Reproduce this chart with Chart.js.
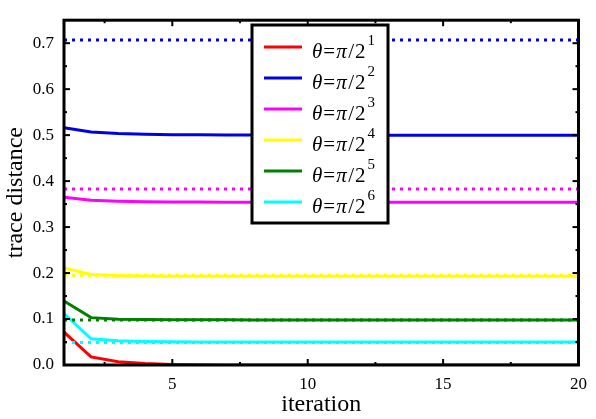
<!DOCTYPE html>
<html>
<head>
<meta charset="utf-8">
<script src="https://cdn.jsdelivr.net/npm/chart.js@4/dist/chart.umd.min.js"></script>
<style>
html,body{margin:0;padding:0;background:#fff;}
#wrap{width:596px;height:419px;}
</style>
</head>
<body>
<div id="wrap"><canvas id="c" width="596" height="419"></canvas></div>
<script>
// ---- data ----
const iterations = [1,2,3,4,5,6,7,8,9,10,11,12,13,14,15,16,17,18,19,20];
const seriesLabels = ['1','2','3','4','5','6']; // exponent k in θ=π/2^k
const seriesColors = ['#ff0000','#0000e6','#ff00ff','#ffff00','#008000','#00ffff'];
const red     = [0.0713,0.0175,0.0070,0.0030,0.0012,0.0005,0.0002,0.0001,0,0,0,0,0,0,0,0,0,0,0,0];
const blue    = [0.516,0.507,0.5035,0.5018,0.5010,0.5006,0.5004,0.5002,0.5001,0.5,0.5,0.5,0.5,0.5,0.5,0.5,0.5,0.5,0.5,0.5];
const magenta = [0.365,0.3585,0.3562,0.3552,0.3547,0.3544,0.3542,0.3541,0.354,0.354,0.354,0.354,0.354,0.354,0.354,0.354,0.354,0.354,0.354,0.354];
const yellow  = [0.211,0.197,0.1945,0.1937,0.1933,0.1931,0.193,0.193,0.193,0.193,0.193,0.193,0.193,0.193,0.193,0.193,0.193,0.193,0.193,0.193];
const green   = [0.139,0.103,0.0995,0.0988,0.0985,0.0983,0.0982,0.0981,0.098,0.098,0.098,0.098,0.098,0.098,0.098,0.098,0.098,0.098,0.098,0.098];
const cyan    = [0.112,0.057,0.0525,0.0512,0.0506,0.0503,0.0502,0.0501,0.050,0.050,0.050,0.050,0.050,0.050,0.050,0.050,0.050,0.050,0.050,0.050];
// dotted reference levels (blue, magenta, yellow, green, cyan)
const boundValues = [0.7071,0.3827,0.1951,0.0980,0.0491];
const boundColors = ['#0000e6','#ff00ff','#ffff00','#008000','#00ffff'];
const xMajorTicks = [5,10,15,20];
const xMinorTicks = [2.5,7.5,12.5,17.5];
const yMajorTicks = [0,0.1,0.2,0.3,0.4,0.5,0.6,0.7];
const yMinorTicks = [0.05,0.15,0.25,0.35,0.45,0.55,0.65];

const solidSeries = [red,blue,magenta,yellow,green,cyan];
const datasets = [];
solidSeries.forEach((s,i)=>{
  datasets.push({
    label:'θ=π/2^'+seriesLabels[i],
    data: iterations.map((x,j)=>({x:x,y:s[j]})),
    borderColor: seriesColors[i], backgroundColor: seriesColors[i],
    borderWidth: 3, pointRadius: 0, tension: 0, fill:false, order: 2
  });
});
boundValues.forEach((v,i)=>{
  datasets.push({
    label:'bound'+i,
    data:[{x:iterations[0],y:v},{x:iterations[iterations.length-1],y:v}],
    borderColor: boundColors[i], borderWidth: 3, borderDash:[3,5], borderCapStyle:'butt',
    pointRadius:0, fill:false, order: 1
  });
});

const SERIF = '"Liberation Serif", "DejaVu Serif", serif';

const framePlugin = {
  id:'frame',
  afterDatasetsDraw(chart){
    const {ctx, chartArea:a, scales:{x,y}} = chart;
    ctx.save();
    ctx.strokeStyle='#000';
    ctx.lineWidth=2;
    const tick=(x1,y1,x2,y2)=>{ctx.beginPath();ctx.moveTo(x1,y1);ctx.lineTo(x2,y2);ctx.stroke();};
    xMajorTicks.forEach(v=>{const px=x.getPixelForValue(v);tick(px,a.bottom,px,a.bottom-6);tick(px,a.top,px,a.top+6);});
    xMinorTicks.forEach(v=>{const px=x.getPixelForValue(v);tick(px,a.bottom,px,a.bottom-3);tick(px,a.top,px,a.top+3);});
    yMajorTicks.forEach(v=>{const py=y.getPixelForValue(v);tick(a.left,py,a.left+6,py);tick(a.right,py,a.right-6,py);});
    yMinorTicks.forEach(v=>{const py=y.getPixelForValue(v);tick(a.left,py,a.left+3,py);tick(a.right,py,a.right-3,py);});
    ctx.lineWidth=3;
    ctx.strokeRect(a.left,a.top,a.right-a.left,a.bottom-a.top);
    // legend
    const bx=252, by=25, bw=136, bh=198;
    ctx.fillStyle='#fff';
    ctx.fillRect(bx,by,bw,bh);
    ctx.lineWidth=3;
    ctx.strokeRect(bx,by,bw,bh);
    seriesLabels.forEach((k,i)=>{
      const yy = by + 22 + i*31;
      ctx.strokeStyle=seriesColors[i];
      ctx.lineWidth=3;
      tick(264,yy,302,yy);
      ctx.fillStyle='#000';
      ctx.textBaseline='alphabetic';
      let tx=312; const base=yy+11;
      ctx.font='italic 21px '+SERIF; ctx.fillText('θ',tx,base); tx+=ctx.measureText('θ').width+1;
      ctx.font='21px '+SERIF; ctx.fillText('=',tx,base); tx+=ctx.measureText('=').width+1;
      ctx.font='italic 21px '+SERIF; ctx.fillText('π',tx,base); tx+=ctx.measureText('π').width+1.5;
      ctx.font='21px '+SERIF; ctx.fillText('/',tx,base); tx+=ctx.measureText('/').width+1;
      ctx.fillText('2',tx,base); tx+=ctx.measureText('2').width+2;
      ctx.font='15px '+SERIF; ctx.fillText(k,tx,base-13);
    });
    ctx.restore();
  }
};

new Chart(document.getElementById('c'),{
  type:'line',
  data:{datasets},
  options:{
    responsive:false, animation:false, devicePixelRatio:1,
    layout:{padding:{left:0,right:17,top:7,bottom:0}},
    plugins:{legend:{display:false},tooltip:{enabled:false}},
    scales:{
      x:{type:'linear',min:1,max:20,
        grid:{display:false,drawTicks:false}, border:{display:false},
        afterBuildTicks(s){s.ticks = xMajorTicks.map(v=>({value:v}));},
        afterFit(s){s.height=54;},
        ticks:{font:{family:SERIF,size:17},color:'#000',padding:9,maxRotation:0},
        title:{display:true,text:'iteration',font:{family:SERIF,size:24},color:'#000',padding:{top:0,bottom:0}}
      },
      y:{type:'linear',min:0,max:0.75,
        grid:{display:false,drawTicks:false}, border:{display:false},
        afterBuildTicks(s){s.ticks = yMajorTicks.map(v=>({value:v}));},
        afterFit(s){s.width=64;},
        ticks:{font:{family:SERIF,size:17},color:'#000',padding:10,callback:v=>Number(v).toFixed(1)},
        title:{display:true,text:'trace distance',font:{family:SERIF,size:24},color:'#000',padding:{top:1,bottom:0}}
      }
    }
  },
  plugins:[framePlugin]
});
</script>
</body>
</html>
